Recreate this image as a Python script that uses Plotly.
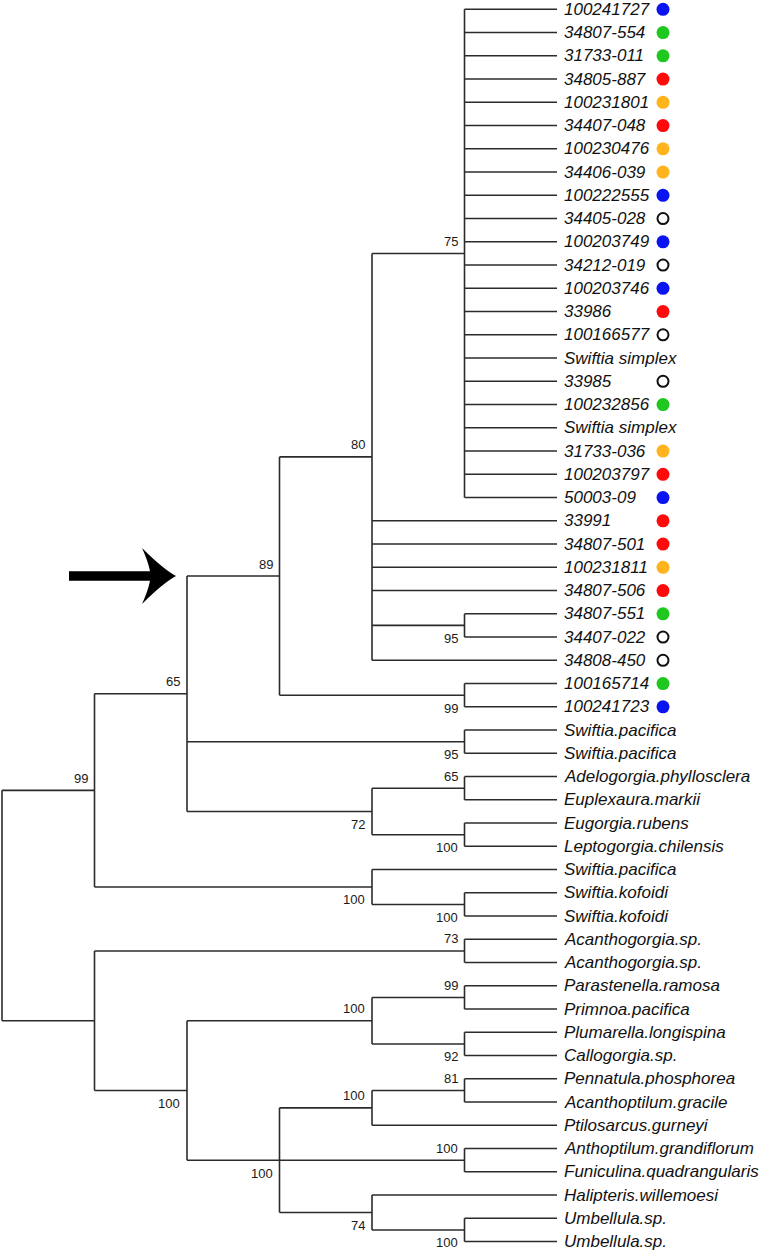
import plotly.graph_objects as go

# tip labels, top to bottom
tips = [
    "100241727", "34807-554", "31733-011", "34805-887", "100231801",
    "34407-048", "100230476", "34406-039", "100222555", "34405-028",
    "100203749", "34212-019", "100203746", "33986", "100166577",
    "Swiftia simplex", "33985", "100232856", "Swiftia simplex", "31733-036",
    "100203797", "50003-09", "33991", "34807-501", "100231811",
    "34807-506", "34807-551", "34407-022", "34808-450", "100165714",
    "100241723", "Swiftia.pacifica", "Swiftia.pacifica", "Adelogorgia.phyllosclera",
    "Euplexaura.markii", "Eugorgia.rubens", "Leptogorgia.chilensis", "Swiftia.pacifica",
    "Swiftia.kofoidi", "Swiftia.kofoidi", "Acanthogorgia.sp.", "Acanthogorgia.sp.",
    "Parastenella.ramosa", "Primnoa.pacifica", "Plumarella.longispina", "Callogorgia.sp.",
    "Pennatula.phosphorea", "Acanthoptilum.gracile", "Ptilosarcus.gurneyi",
    "Anthoptilum.grandiflorum", "Funiculina.quadrangularis", "Halipteris.willemoesi",
    "Umbellula.sp.", "Umbellula.sp.",
]

# sample marks: B blue, G green, R red, Y orange, O open, "" none
tip_marks = ["B", "G", "G", "R", "Y", "R", "Y", "Y", "B", "O", "B", "O", "B", "R", "O",
             "", "O", "G", "", "Y", "R", "B", "R", "R", "Y", "R", "G", "O", "O", "G", "B"]
tip_marks += [""] * (len(tips) - len(tip_marks))

mark_colors = {"B": "#0a14f0", "G": "#1ec81e", "R": "#ff0a0a", "Y": "#ffb41e"}

# topology, leaves are indices into tips; label = support + a(bove)/b(elow)
tree_str = (
    "((((((0,1,2,3,4,5,6,7,8,9,10,11,12,13,14,15,16,17,18,19,20,21)75a,"
    "22,23,24,25,(26,27)95b,28)80a,(29,30)99b)89a,(31,32)95b,"
    "((33,34)65a,(35,36)100b)72b)65a,(37,(38,39)100b)100b)99a,"
    "((40,41)73a,(((42,43)99a,(44,45)92b)100a,"
    "(((46,47)81a,48)100a,(49,50)100a,(51,(52,53)100b)74b)100b)100b))"
)


def parse(s, i=0):
    if s[i] == "(":
        kids = []
        i += 1
        while True:
            kid, i = parse(s, i)
            kids.append(kid)
            if s[i] == ",":
                i += 1
                continue
            i += 1  # ')'
            break
        j = i
        while j < len(s) and s[j] not in ",()":
            j += 1
        return {"kids": kids, "label": s[i:j]}, j
    j = i
    while s[j] not in ",()":
        j += 1
    return {"kids": [], "leaf": int(s[i:j])}, j


root, _ = parse(tree_str)

# cladogram layout: tips at depth 6, node = one step left of its nearest child
DEPTH = 6


def place(n):
    if not n["kids"]:
        n["x"], n["y"] = DEPTH, n["leaf"]
        return
    for k in n["kids"]:
        place(k)
    n["x"] = min(k["x"] for k in n["kids"]) - 1
    n["y"] = (n["kids"][0]["y"] + n["kids"][-1]["y"]) / 2


place(root)

lx, ly, nodes = [], [], []


def walk(n):
    if not n["kids"]:
        return
    nodes.append(n)
    lx.extend([n["x"], n["x"], None])
    ly.extend([n["kids"][0]["y"], n["kids"][-1]["y"], None])
    for k in n["kids"]:
        lx.extend([n["x"], k["x"], None])
        ly.extend([k["y"], k["y"], None])
        walk(k)


walk(root)

# pixel mapping of the axes
X0, XS = 2.0, 92.5     # px of depth 0, px per depth step
Y0, YS = 9.3, 23.25    # px of first tip, px per tip
W, H = 765, 1251
MARK_X = (663 - X0) / XS

fig = go.Figure()
fig.add_trace(go.Scatter(x=lx, y=ly, mode="lines",
                         line=dict(color="#2b2b2b", width=1.6),
                         hoverinfo="skip", showlegend=False))

for code, col in mark_colors.items():
    ys = [i for i, m in enumerate(tip_marks) if m == code]
    fig.add_trace(go.Scatter(x=[MARK_X] * len(ys), y=ys, mode="markers",
                             marker=dict(symbol="circle", size=13, color=col, line=dict(width=0)),
                             hoverinfo="skip", showlegend=False))
ys = [i for i, m in enumerate(tip_marks) if m == "O"]
fig.add_trace(go.Scatter(x=[MARK_X] * len(ys), y=ys, mode="markers",
                         marker=dict(symbol="circle-open", size=11, color="#111111",
                                     line=dict(width=2, color="#111111")),
                         hoverinfo="skip", showlegend=False))

annotations = []
for i, name in enumerate(tips):
    annotations.append(dict(x=DEPTH, y=i, text=name, showarrow=False,
                            xanchor="left", yanchor="middle", xshift=5,
                            font=dict(family="Arial, Liberation Sans", size=17,
                                      color="#111111", style="italic")))
for n in nodes:
    lab = n["label"]
    if not lab:
        continue
    above = lab.endswith("a")
    annotations.append(dict(x=n["x"], y=n["y"], text=lab[:-1], showarrow=False,
                            xanchor="right", yanchor="middle", xshift=-5,
                            yshift=12 if above else -13,
                            font=dict(family="Arial, Liberation Sans", size=13, color="#1a1a1a")))

# arrow pointing at the 89 node
n89 = [n for n in nodes if n["label"] == "89a"][0]
tx = n89["x"] - 1 - 11 / XS
ty = n89["y"]


def P(dx, dy):
    return "%.4f,%.4f" % (tx + dx / XS, ty + dy / YS)


arrow = ("M " + P(-107, -4.8) + " L " + P(-26, -4.8) +
         " Q " + P(-28, -15) + " " + P(-34, -28) +
         " Q " + P(-13, -7) + " " + P(0, 0) +
         " Q " + P(-13, 7) + " " + P(-34, 28) +
         " Q " + P(-28, 15) + " " + P(-26, 4.8) +
         " L " + P(-107, 4.8) + " Z")

fig.update_layout(
    width=W, height=H,
    margin=dict(l=0, r=0, t=0, b=0),
    paper_bgcolor="white", plot_bgcolor="white",
    xaxis=dict(range=[-X0 / XS, (W - X0) / XS], visible=False, fixedrange=True),
    yaxis=dict(range=[(H - Y0) / YS, -Y0 / YS], visible=False, fixedrange=True),
    annotations=annotations,
    shapes=[dict(type="path", path=arrow, fillcolor="black", line=dict(width=0))],
)

fig.write_html("out.html", config={"displayModeBar": False},
               post_script="document.body.style.margin='0';")
